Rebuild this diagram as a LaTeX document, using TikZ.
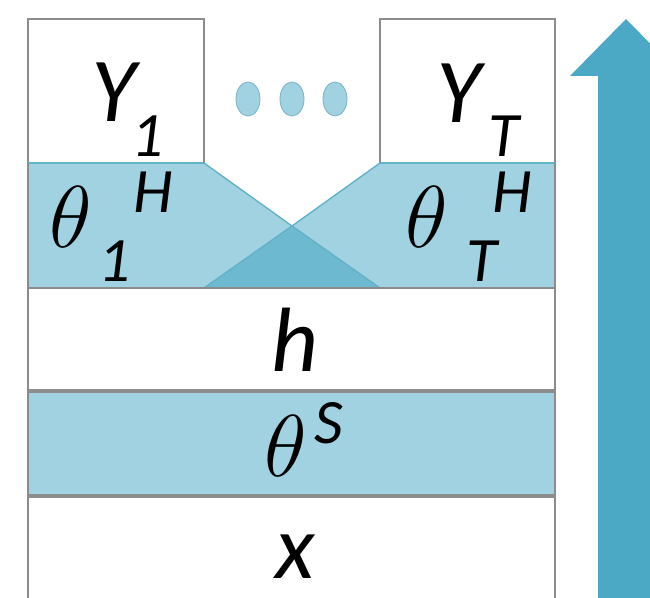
\RequirePackage{fix-cm}
\documentclass[tikz,border=0pt]{standalone}
\usepackage{fontspec}
\usepackage{xcolor}
\usepackage{tikz}
\usetikzlibrary{positioning, arrows.meta}
\newfontfamily\lblfont{Carlito}
\definecolor{bandblue}{HTML}{A1D2E1}
\definecolor{darkband}{HTML}{6DB9CF}
\definecolor{arrowblue}{HTML}{4BA9C5}
\definecolor{edgeteal}{HTML}{62B2C9}
\definecolor{boxgray}{HTML}{8C8C8C}
\definecolor{dotedge}{HTML}{7DB5C8}

\begin{document}
\begin{tikzpicture}[x=0.02cm, y=-0.02cm,
    bigtxt/.style={anchor=base, inner sep=0pt, font=\lblfont\itshape\fontsize{52}{52}\selectfont},
    smalltxt/.style={anchor=base, inner sep=0pt, font=\lblfont\itshape\fontsize{36}{36}\selectfont},
    thetatxt/.style={anchor=base, inner sep=0pt, font=\fontsize{50}{50}\selectfont},
    layer/.style={draw=boxgray, line width=0.8pt},
    dot/.style={draw=dotedge, fill=bandblue, line width=0.5pt}]
			\useasboundingbox (0,0) rectangle (650,598);
			\clip (0,0) rectangle (650,598);

			% Output boxes
			\draw[layer, fill=white] (28,19) rectangle (204,163);
			\draw[layer, fill=white] (380,19) rectangle (555,163);
			\node[bigtxt] (y1) at (114,122) {Y};
			\node[smalltxt] (y1sub) at (148,157) {1};
			\node[bigtxt] (yT) at (459,123) {Y};
			\node[smalltxt] (yTsub) at (504,157) {T};

			% Dots between the heads
			\foreach \dx [count=\i] in {248,292,335}
				\draw[dot] (\dx,99) ellipse (12 and 17) coordinate (dot\i);

			% Task-specific heads
			\coordinate (cross) at (292,226);
			\fill[bandblue] (28,163) -- (204,163) -- (cross) -- (380,163) -- (555,163) -- (555,288) -- (28,288) -- cycle;
			\fill[darkband] (204,288) -- (cross) -- (380,288) -- cycle;
			\draw[edgeteal, line width=0.8pt] (204,163) -- (cross) -- (380,288);
			\draw[edgeteal, line width=0.8pt] (380,163) -- (cross) -- (204,288);
			\draw[edgeteal, line width=0.8pt] (28,163) -- (204,163) (380,163) -- (555,163);
			\draw[boxgray, line width=0.8pt] (28,163) -- (28,288) (555,163) -- (555,288);
			\node[thetatxt] (th1) at (71,248) {$\theta$};
			\node[smalltxt] (th1sup) at (153,213) {H};
			\node[smalltxt] (th1sub) at (115,282) {1};
			\node[thetatxt] (thT) at (427,248) {$\theta$};
			\node[smalltxt] (thTsup) at (512,213) {H};
			\node[smalltxt] (thTsub) at (482,282) {T};

			% Shared layers
			\draw[layer, fill=white] (28,288) rectangle (555,390);
			\node[bigtxt] (h) at (295,372) {h};
			\draw[layer, fill=bandblue] (28,392) rectangle (555,495);
			\node[thetatxt] (ths) at (286,477) {$\theta$};
			\node[smalltxt] (thssup) at (329,443) {S};
			\draw[layer, fill=white] (28,497) rectangle (555,610);
			\node[bigtxt] (x) at (295,578) {x};

			% Flow arrow
			\fill[arrowblue] (598,610) -- (598,76) -- (570,76) -- (626,19) -- (682,76) -- (654,76) -- (654,610) -- cycle;
		\end{tikzpicture}
\end{document}
